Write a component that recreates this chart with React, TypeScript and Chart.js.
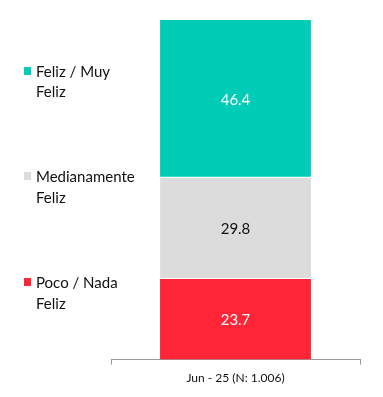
import React, { useEffect, useRef } from "react";
import { Chart, registerables } from "chart.js";

Chart.register(...registerables);

const categories = ["Jun - 25 (N: 1.006)"];
const seriesNames = ["Poco / Nada Feliz", "Medianamente Feliz", "Feliz / Muy Feliz"];
const pocoNada = [23.7];
const medianamente = [29.8];
const felizMuy = [46.4];
const legendLines = [
  ["Feliz / Muy", "Feliz"],
  ["Medianamente", "Feliz"],
  ["Poco / Nada", "Feliz"],
];

const COLORS = { red: "#FF2436", grey: "#DCDCDC", green: "#00CCB8" };
const FONT = "Lato, 'Open Sans', sans-serif";

const valueLabels = {
  id: "valueLabels",
  afterDatasetsDraw(chart: any) {
    const ctx = chart.ctx;
    ctx.save();
    ctx.font = `15px ${FONT}`;
    ctx.textAlign = "center";
    ctx.textBaseline = "middle";
    chart.data.datasets.forEach((ds: any, i: number) => {
      const meta = chart.getDatasetMeta(i);
      meta.data.forEach((bar: any, j: number) => {
        const v = ds.data[j];
        const y = (bar.y + bar.base) / 2;
        ctx.fillStyle = ds.labelColor;
        ctx.fillText(v.toFixed(1), bar.x, y + 1);
      });
    });
    ctx.restore();
  },
};

const sideLegend = {
  id: "sideLegend",
  afterDraw(chart: any) {
    const ctx = chart.ctx;
    ctx.save();
    const items = [
      { color: COLORS.green, y: 72, gap: 20 },
      { color: COLORS.grey, y: 177, gap: 21 },
      { color: COLORS.red, y: 283, gap: 21 },
    ];
    ctx.font = `15px ${FONT}`;
    ctx.textBaseline = "middle";
    ctx.textAlign = "left";
    items.forEach((it, i) => {
      ctx.fillStyle = it.color;
      ctx.fillRect(24, it.y - 5, 7, 8);
      ctx.fillStyle = "#111";
      legendLines[i].forEach((line, k) => {
        ctx.fillText(line, 36, it.y + k * it.gap);
      });
    });
    ctx.restore();
  },
};

export default function App() {
  const ref = useRef<HTMLCanvasElement>(null);
  useEffect(() => {
    if (!ref.current) return;
    const chart = new Chart(ref.current, {
      type: "bar",
      data: {
        labels: categories,
        datasets: [
          {
            label: seriesNames[0],
            data: pocoNada,
            backgroundColor: COLORS.red,
            borderWidth: 0,
            labelColor: "#ffffff",
          } as any,
          {
            label: seriesNames[1],
            data: medianamente,
            backgroundColor: COLORS.grey,
            borderColor: "#ffffff",
            borderWidth: { top: 0, bottom: 1, left: 0, right: 0 },
            borderSkipped: false,
            labelColor: "#111",
          } as any,
          {
            label: seriesNames[2],
            data: felizMuy,
            backgroundColor: COLORS.green,
            borderColor: "#ffffff",
            borderWidth: { top: 0, bottom: 1, left: 0, right: 0 },
            borderSkipped: false,
            labelColor: "#ffffff",
          } as any,
        ],
      },
      options: {
        animation: false,
        responsive: false,
        maintainAspectRatio: false,
        layout: { padding: { left: 111, right: 23, top: 20, bottom: 6 } },
        datasets: { bar: { categoryPercentage: 1, barPercentage: 0.606 } },
        plugins: { legend: { display: false }, tooltip: { enabled: false } },
        scales: {
          x: {
            stacked: true,
            border: { display: true, color: "#9a9a9a", width: 1 },
            grid: {
              display: true,
              drawOnChartArea: false,
              drawTicks: true,
              tickLength: 5,
              color: "#9a9a9a",
            },
            ticks: {
              color: "#111",
              font: { family: FONT, size: 12 },
              padding: 6,
            },
          },
          y: {
            stacked: true,
            display: false,
            min: 0,
            max: 99.9,
          },
        },
      } as any,
      plugins: [valueLabels, sideLegend],
    });
    return () => chart.destroy();
  }, []);
  return (
    <div style={{ position: "fixed", left: 0, top: 0, width: 383, height: 397, background: "#fff" }}>
      <canvas ref={ref} width={383} height={397} style={{ display: "block" }} />
    </div>
  );
}
